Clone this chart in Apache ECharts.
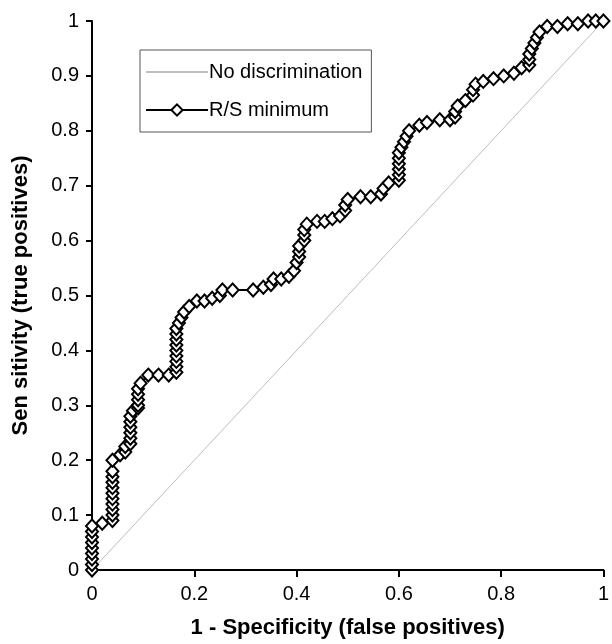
<!DOCTYPE html>
<html>
	<head>
		<meta charset="utf-8">
		<title>ROC curve</title>
		<script src="https://cdn.jsdelivr.net/npm/echarts@6/dist/echarts.min.js"></script>
	</head>
	<body style="margin: 0;">
		<div id="main" style="width: 612px; height: 644px;"></div>
		<script>
			// R/S minimum ROC points
			var rocX = [
				0, 0, 0, 0, 0, 0, 0, 0, 0,
				0.02, 0.04, 0.04, 0.04, 0.04, 0.04, 0.04, 0.04, 0.04, 0.04, 0.04, 0.04,
				0.055, 0.065, 0.065, 0.075, 0.075, 0.075, 0.075, 0.075, 0.075, 0.08,
				0.09, 0.09, 0.09, 0.09, 0.09, 0.095, 0.11, 0.13, 0.15,
				0.165, 0.165, 0.165, 0.165, 0.165, 0.165, 0.165, 0.165, 0.165,
				0.17, 0.175, 0.18, 0.19, 0.205, 0.22, 0.235, 0.25, 0.255, 0.275,
				0.315, 0.335, 0.35, 0.355, 0.37, 0.385, 0.395,
				0.4, 0.405, 0.405, 0.405, 0.415, 0.415, 0.415, 0.42,
				0.44, 0.455, 0.47, 0.485, 0.495, 0.495, 0.5, 0.525, 0.545, 0.565, 0.57, 0.58,
				0.6, 0.6, 0.6, 0.6, 0.6, 0.6, 0.605, 0.61, 0.615, 0.62,
				0.64, 0.655, 0.68, 0.7, 0.71, 0.71, 0.715, 0.73, 0.745, 0.745, 0.75,
				0.765, 0.785, 0.805, 0.825, 0.84, 0.855, 0.855, 0.855, 0.86, 0.865, 0.87, 0.875,
				0.89, 0.91, 0.93, 0.95, 0.97, 0.985, 1
			];
			var rocY = [
				0, 0.01, 0.02, 0.03, 0.04, 0.05, 0.06, 0.07, 0.08,
				0.085, 0.09, 0.1, 0.11, 0.12, 0.13, 0.14, 0.15, 0.16, 0.17, 0.18, 0.2,
				0.21, 0.215, 0.225, 0.23, 0.24, 0.25, 0.26, 0.27, 0.28, 0.29,
				0.295, 0.3, 0.31, 0.32, 0.33, 0.34, 0.355, 0.355, 0.355,
				0.36, 0.37, 0.38, 0.39, 0.4, 0.41, 0.42, 0.43, 0.44,
				0.45, 0.46, 0.47, 0.48, 0.49, 0.49, 0.495, 0.5, 0.51, 0.51,
				0.51, 0.515, 0.52, 0.53, 0.53, 0.535, 0.545,
				0.56, 0.57, 0.58, 0.59, 0.6, 0.61, 0.62, 0.63,
				0.635, 0.635, 0.64, 0.645, 0.655, 0.665, 0.675, 0.68, 0.68, 0.685, 0.695, 0.705,
				0.71, 0.72, 0.73, 0.74, 0.75, 0.76, 0.77, 0.78, 0.79, 0.8,
				0.81, 0.815, 0.82, 0.82, 0.825, 0.835, 0.845, 0.855, 0.865, 0.875, 0.885,
				0.89, 0.895, 0.9, 0.905, 0.915, 0.92, 0.93, 0.94, 0.95, 0.96, 0.97, 0.98,
				0.99, 0.99, 0.995, 0.995, 1, 1, 1
			];
			// chance line
			var diagX = [0, 1];
			var diagY = [0, 1];

			var font = 'Liberation Sans, Arial, sans-serif';
			var zip = function(xs, ys){
				return xs.map((x, i) => [x, ys[i]]);
			};

			var mychart = echarts.init(document.getElementById('main'));
			var option = {
				animation: false,
				backgroundColor: '#fff',
				textStyle: {fontFamily: font},
				grid: {left: 92, right: 5, top: 21, bottom: 69},
				legend: {
					orient: 'vertical',
					left: 140,
					top: 50,
					padding: [12, 9, 12, 5],
					itemGap: 18,
					itemWidth: 62,
					itemHeight: 14,
					borderColor: '#555',
					borderWidth: 1,
					textStyle: {color: '#000', fontSize: 20, fontFamily: font, padding: [0, 0, 0, -4]},
					data: [
						// only the line in the key, no dot
						{name: 'No discrimination', itemStyle: {opacity: 0}},
						{name: 'R/S minimum'}
					]
				},
				xAxis: {
					type: 'value',
					min: 0,
					max: 1,
					interval: 0.2,
					name: '1 - Specificity (false positives)',
					nameLocation: 'middle',
					nameGap: 47,
					nameTextStyle: {color: '#000', fontSize: 22, fontWeight: 'bold', fontFamily: font},
					axisLine: {lineStyle: {color: '#000', width: 2}},
					axisTick: {length: 7, lineStyle: {color: '#000', width: 2}},
					axisLabel: {color: '#000', fontSize: 20, margin: 14, fontFamily: font},
					splitLine: {show: false}
				},
				yAxis: {
					type: 'value',
					min: 0,
					max: 1,
					interval: 0.1,
					name: 'Sen sitivity (true positives)',
					nameLocation: 'middle',
					nameGap: 60,
					nameTextStyle: {color: '#000', fontSize: 22, fontWeight: 'bold', fontFamily: font},
					axisLine: {show: true, lineStyle: {color: '#000', width: 2}},
					axisTick: {show: true, length: 6, lineStyle: {color: '#000', width: 2}},
					axisLabel: {color: '#000', fontSize: 20, margin: 13, fontFamily: font},
					splitLine: {show: false}
				},
				series: [
					{
						name: 'No discrimination',
						type: 'line',
						symbol: 'none',
						lineStyle: {color: '#bdbdbd', width: 1},
						itemStyle: {color: '#bdbdbd'},
						data: zip(diagX, diagY)
					},
					{
						name: 'R/S minimum',
						type: 'line',
						symbol: 'diamond',
						symbolSize: [12, 13],
						showAllSymbol: true,
						lineStyle: {color: '#000', width: 2},
						itemStyle: {color: '#fff', borderColor: '#000', borderWidth: 2},
						data: zip(rocX, rocY)
					}
				]
			};
			mychart.setOption(option);
		</script>
	</body>
</html>
